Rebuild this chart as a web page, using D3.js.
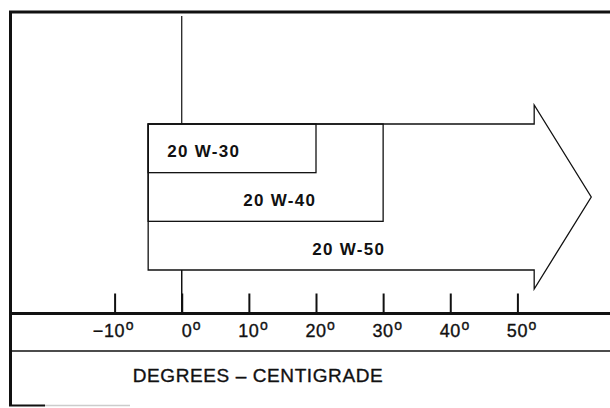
<!DOCTYPE html>
<html>
<head>
<meta charset="utf-8">
<script src="https://cdn.jsdelivr.net/npm/d3@7"></script>
<style>
    body { margin: 0; background: #fff; }
    text { font-family: "Liberation Sans", Arial, sans-serif; fill: #111; }
</style>
</head>
<body>
<script>
// oil grades and the temperature span (deg C) each one covers
var grades = ["20 W-30", "20 W-40", "20 W-50"];
var lowTemps = [-5, -5, -5];
var highTemps = [20, 30, 52.5];
var arrowTip = 61; // 20 W-50 is open ended, the arrow head reaches here
var tickValues = [-10, 0, 10, 20, 30, 40, 50];
var axisTitle = "DEGREES \u2013 CENTIGRADE";

var width = 610, height = 408;
var ink = "#111";

var svg = d3.select("body").append("svg")
    .attr("width", width)
    .attr("height", height);

var x = d3.scaleLinear().domain([-10, 50]).range([114.6, 517.4]);
var row = d3.scaleLinear().domain([0, grades.length]).range([124, 270]);
var axisY = 313.5;

// frame (left + top, short piece of bottom)
svg.append("path")
    .attr("d", "M10.5,406 V12 H610")
    .attr("fill", "none")
    .attr("stroke", ink)
    .attr("stroke-width", 3);
svg.append("line")
    .attr("x1", 9).attr("x2", 45).attr("y1", 405.5).attr("y2", 405.5)
    .attr("stroke", ink).attr("stroke-width", 2);
svg.append("line")
    .attr("x1", 45).attr("x2", 130).attr("y1", 405.5).attr("y2", 405.5)
    .attr("stroke", "#ccc").attr("stroke-width", 1.5);

// zero degree reference line, broken by the boxes
svg.append("line")
    .attr("x1", x(0)).attr("x2", x(0))
    .attr("y1", 16).attr("y2", row(0))
    .attr("stroke", ink).attr("stroke-width", 1.2);
svg.append("line")
    .attr("x1", x(0)).attr("x2", x(0))
    .attr("y1", row(grades.length)).attr("y2", axisY)
    .attr("stroke", ink).attr("stroke-width", 1.5);

var boxes = grades.map(function (g, i) {
    return { grade: g, lo: lowTemps[i], hi: highTemps[i], i: i };
});

function arrowPath(d) {
    var x0 = x(d.lo), x1 = x(d.hi), xt = x(arrowTip);
    var y0 = row(0), y1 = row(d.i + 1), ym = (y0 + y1) / 2, flare = 19;
    return "M" + x0 + "," + y0 + "H" + x1 + "V" + (y0 - flare) +
        "L" + xt + "," + ym + "L" + x1 + "," + (y1 + flare) +
        "V" + y1 + "H" + x0 + "Z";
}

var last = boxes[boxes.length - 1];
svg.append("path")
    .attr("d", arrowPath(last))
    .attr("fill", "none")
    .attr("stroke", ink)
    .attr("stroke-width", 1.3)
    .attr("stroke-linejoin", "miter");

svg.selectAll(".box")
    .data(boxes.slice(0, boxes.length - 1))
    .enter().append("rect")
    .attr("class", "box")
    .attr("x", function (d) { return x(d.lo); })
    .attr("y", row(0))
    .attr("width", function (d) { return x(d.hi) - x(d.lo); })
    .attr("height", function (d) { return row(d.i + 1) - row(0); })
    .attr("fill", "none")
    .attr("stroke", ink)
    .attr("stroke-width", 1.3);

// grade labels, sitting in the strip each box adds
var labelDx = [19, 95, 164];
svg.selectAll(".grade")
    .data(boxes)
    .enter().append("text")
    .attr("class", "grade")
    .attr("x", function (d) { return x(d.lo) + labelDx[d.i]; })
    .attr("y", function (d) { return row(d.i + 1) - 15.5; })
    .attr("font-size", 17)
    .attr("font-weight", "bold")
    .attr("letter-spacing", 1.3)
    .text(function (d) { return d.grade; });

// axis
svg.append("line")
    .attr("x1", 11).attr("x2", width)
    .attr("y1", axisY).attr("y2", axisY)
    .attr("stroke", ink).attr("stroke-width", 3);
svg.append("line")
    .attr("x1", 11).attr("x2", width)
    .attr("y1", 351).attr("y2", 351)
    .attr("stroke", ink).attr("stroke-width", 1.5);

var axis = d3.axisBottom(x)
    .tickValues(tickValues)
    .tickSizeInner(-20)
    .tickSizeOuter(0)
    .tickFormat(d3.format("d"));

var gAxis = svg.append("g")
    .attr("transform", "translate(0," + axisY + ")")
    .call(axis);
gAxis.select(".domain").remove();
gAxis.selectAll(".tick line")
    .attr("stroke", ink)
    .attr("stroke-width", 2);
gAxis.selectAll(".tick text")
    .attr("text-anchor", "end")
    .attr("x", 19)
    .attr("y", 23)
    .attr("dy", null)
    .attr("font-size", 18)
    .attr("letter-spacing", 0.6)
    .attr("fill", ink)
    .attr("stroke", ink)
    .attr("stroke-width", 0.35)
    .each(function (d) {
        var t = d3.select(this);
        t.text(null);
        t.append("tspan").text(d3.format("d")(d));
        t.append("tspan")
            .attr("font-size", 14)
            .attr("dx", 0.5)
            .attr("dy", -7)
            .text("o");
    });

svg.append("text")
    .attr("x", 258)
    .attr("y", 381.5)
    .attr("text-anchor", "middle")
    .attr("font-size", 19)
    .attr("letter-spacing", 0.6)
    .attr("stroke", ink)
    .attr("stroke-width", 0.35)
    .text(axisTitle);
</script>
</body>
</html>
